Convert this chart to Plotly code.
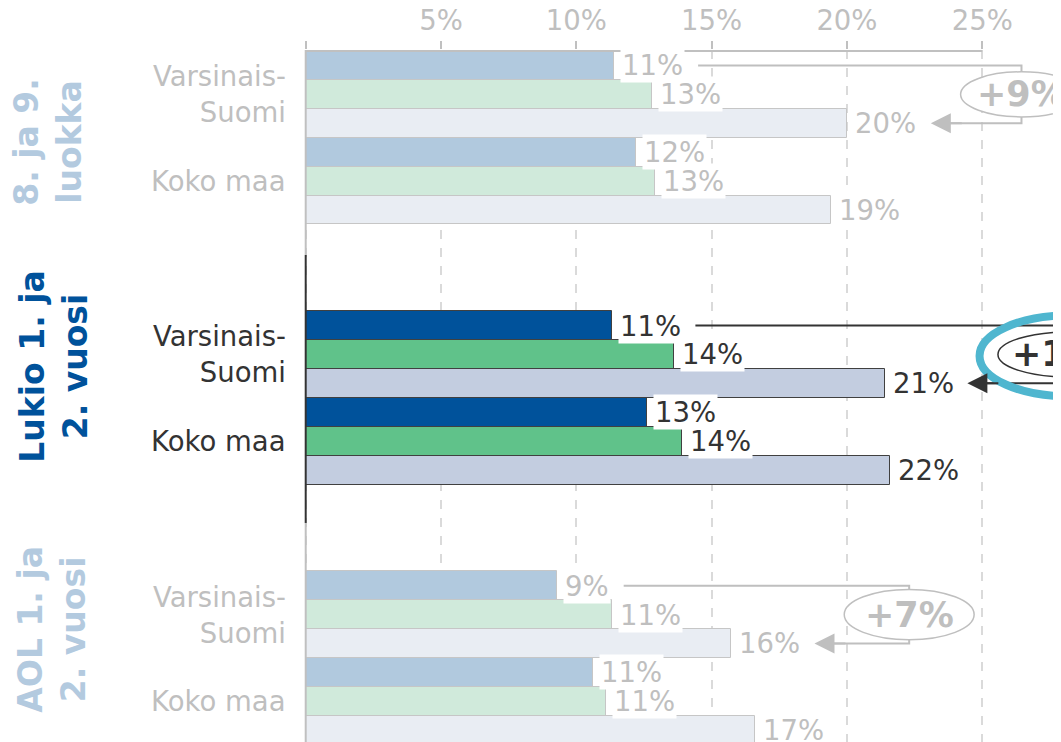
import plotly.graph_objects as go

# --- data -------------------------------------------------------------
groups = ["8. ja 9.<br>luokka", "Lukio 1. ja<br>2. vuosi", "AOL 1. ja<br>2. vuosi"]
regions = ["Varsinais-<br>Suomi", "Koko maa"]
tick_vals = [0, 5, 10, 15, 20, 25]
tick_text = ["", "5%", "10%", "15%", "20%", "25%"]

# per group: [Varsinais-Suomi, Koko maa]
blue_vals = [[11.4, 12.2], [11.3, 12.6], [9.3, 10.6]]
green_vals = [[12.8, 12.9], [13.6, 13.9], [11.3, 11.1]]
grey_vals = [[20.0, 19.4], [21.4, 21.6], [15.7, 16.6]]

active = 1  # the highlighted group

# --- styles -----------------------------------------------------------
FONT = "DejaVu Sans"
TXT = 27.5
faded = dict(blue="#b1c9de", green="#d0eadb", grey="#e9edf3", line="#c6c6c6",
             text="#bfbfbf", title="#b3cadf")
strong = dict(blue="#00529b", green="#60c28a", grey="#c3cde0", line="#404040",
              text="#333333", title="#00529b")

# layout helpers (positions in axis units, not data)
step = 9
px = 27.06          # pixels per percent unit
x_max = 27.91
bracket_start = [14.5, 14.4, 11.75]
bracket_x = [26.45, 28.2, 22.3]
arrow_tip = [23.1, 24.45, 18.8]
ell_rx = [2.25, 2.62, 2.4]
ell_ry = [0.78, 0.78, 0.87]

fig = go.Figure()
shapes = []
annotations = []

for g in range(len(groups)):
    st = strong if g == active else faded
    base = g * step
    for s, (key, vals) in enumerate([("blue", blue_vals), ("green", green_vals), ("grey", grey_vals)]):
        ys = [base + s, base + 3 + s]
        fig.add_trace(go.Bar(
            x=vals[g], y=ys, orientation="h", width=1,
            marker=dict(color=st[key], line=dict(color=st["line"], width=1)),
            showlegend=False, hoverinfo="skip",
        ))
        for v, y in zip(vals[g], ys):
            annotations.append(dict(
                x=v, y=y, xref="x", yref="y", xanchor="left", yanchor="middle",
                xshift=6, text=f"{round(v)}%", showarrow=False, bgcolor="white",
                borderpad=1, font=dict(family=FONT, size=TXT, color=st["text"]),
            ))

    # region labels
    for r, name in enumerate(regions):
        annotations.append(dict(
            x=0, y=base + 3 * r + 1, xref="x", yref="y", xanchor="right", yanchor="middle",
            xshift=-18, text=name, align="right", showarrow=False,
            font=dict(family=FONT, size=TXT, color=st["text"]),
        ))

    # bracket: blue -> grey of Varsinais-Suomi
    y0, y1, y2 = base, base + 1, base + 2
    bx = bracket_x[g]
    shapes.append(dict(
        type="path", xref="x", yref="y", layer="above",
        path=f"M {bracket_start[g]},{y0} H {bx} V {y2} H {arrow_tip[g] + 0.4}",
        line=dict(color=st["text"], width=2),
    ))
    shapes.append(dict(
        type="circle", xref="x", yref="y", layer="above",
        x0=bx - ell_rx[g], x1=bx + ell_rx[g], y0=y1 - ell_ry[g], y1=y1 + ell_ry[g],
        fillcolor="white", line=dict(color=st["text"], width=1.5),
    ))
    annotations.append(dict(
        x=arrow_tip[g], y=y2, ax=arrow_tip[g] + 1.2, ay=y2, xref="x", yref="y",
        axref="x", ayref="y", text="", showarrow=True, arrowhead=2, arrowsize=2,
        arrowwidth=2, arrowcolor=st["text"], standoff=0,
    ))
    diff = round(grey_vals[g][0]) - round(blue_vals[g][0])
    tx = min(bx, 27.0)
    annotations.append(dict(
        x=tx, y=y1, xref="x", yref="y", xanchor="center", yanchor="middle",
        xshift=(bx - tx) * px, text=f"+{diff}%", showarrow=False,
        font=dict(family=FONT, size=35, color=st["text"], weight="bold"),
    ))

# highlight ring around the active difference
shapes.append(dict(
    type="circle", xref="x", yref="y", layer="above",
    x0=bracket_x[active] - 3.3, x1=bracket_x[active] + 3.3,
    y0=active * step + 1.05 - 1.4, y1=active * step + 1.05 + 1.4,
    line=dict(color="#4fb6cf", width=8),
))

# group titles (rotated)
title_pos = [(2.65, -258), (10.4, -252), (19.5, -254)]
for g, name in enumerate(groups):
    st = strong if g == active else faded
    y, shift = title_pos[g]
    annotations.append(dict(
        x=0, y=y, xref="x", yref="y", xanchor="center", yanchor="middle",
        xshift=shift, text=name, textangle=-90, showarrow=False, align="center",
        font=dict(family=FONT, size=33, color=st["title"], weight="bold"),
    ))

# axis lines drawn as segments so they can change colour per group
shapes.append(dict(type="line", xref="x", yref="y", layer="above",
                   x0=0, x1=25, y0=-0.5, y1=-0.5, line=dict(color="#c0c0c0", width=2)))
for (ya, yb), col in [((-0.6, 6.56), "#c0c0c0"), ((6.56, 15.83), "#333333"), ((15.83, 23.6), "#c0c0c0")]:
    shapes.append(dict(type="line", xref="x", yref="y", layer="above",
                       x0=0, x1=0, y0=ya, y1=yb, line=dict(color=col, width=2)))

# the page adds an 8px body margin, so the figure is 8px smaller each way
fig.update_layout(
    width=1053, height=734,
    margin=dict(l=295, r=0, t=42, b=0),
    paper_bgcolor="white", plot_bgcolor="white",
    barmode="overlay", bargap=0,
    shapes=shapes, annotations=annotations,
    font=dict(family=FONT),
)
fig.update_xaxes(
    range=[-0.1, x_max], side="top", tickvals=tick_vals, ticktext=tick_text,
    ticks="outside", ticklen=8, tickwidth=2, tickcolor="#c0c0c0",
    tickfont=dict(family=FONT, size=TXT, color="#bfbfbf"), ticklabelstandoff=0,
    showgrid=True, gridcolor="#dadada", griddash="dash", gridwidth=1.5,
    zeroline=False, showline=False, automargin=False,
)
fig.update_yaxes(
    range=[23.41, -0.535], showticklabels=False, showgrid=False,
    zeroline=False, showline=False,
)

fig.write_html("out.html")
